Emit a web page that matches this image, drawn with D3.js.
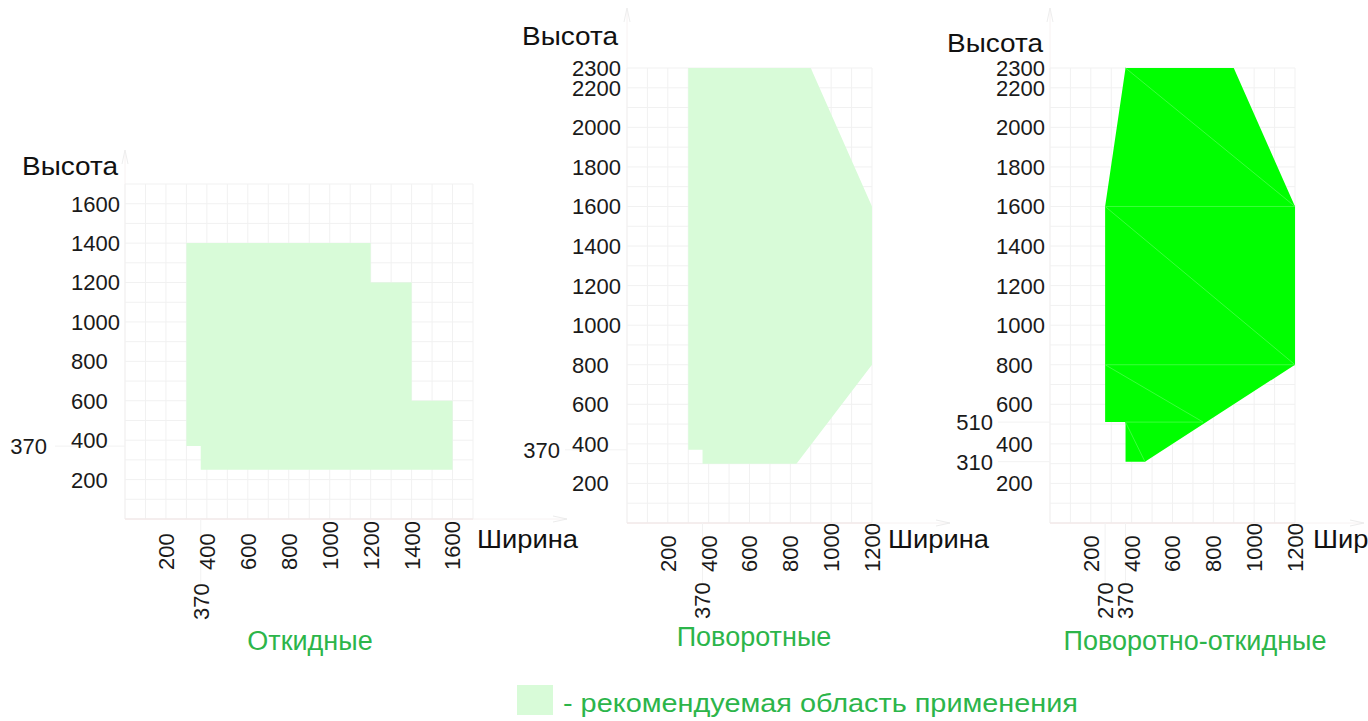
<!DOCTYPE html>
<html><head><meta charset="utf-8">
<script src="https://cdn.jsdelivr.net/npm/d3@7"></script>
<style>body{margin:0;background:#fff;overflow:hidden} text{font-family:"Liberation Sans",Arial,sans-serif}</style>
</head><body><svg id="c" width="1368" height="721"></svg>
<script>
// ---------- data ----------
const panelNames = ["Откидные", "Поворотные", "Поворотно-откидные"];
const widthMax = [1700, 1200, 1200];
const heightMax = [1700, 2300, 2300];
const xTicks1 = [200, 400, 600, 800, 1000, 1200, 1400, 1600];
const xTicks2 = [200, 400, 600, 800, 1000, 1200];
const xTicks3 = [200, 400, 600, 800, 1000, 1200];
const xExtra1 = [370];
const xExtra2 = [370];
const xExtra3 = [270, 370];
const yTicks1 = [200, 400, 600, 800, 1000, 1200, 1400, 1600];
const yTicks2 = [200, 400, 600, 800, 1000, 1200, 1400, 1600, 1800, 2000, 2200, 2300];
const yTicks3 = [200, 400, 600, 800, 1000, 1200, 1400, 1600, 1800, 2000, 2200, 2300];
const yExtra1 = [370];
const yExtra2 = [370];
const yExtra3 = [310, 510];
// polygons: [width, height]
const area1 = [[300,1400],[1200,1400],[1200,1200],[1400,1200],[1400,600],[1600,600],[1600,250],[370,250],[370,370],[300,370]];
const area2 = [[300,2300],[900,2300],[1200,1600],[1200,800],[830,300],[370,300],[370,370],[300,370]];
const area3 = [[370,2300],[900,2300],[1200,1600],[1200,800],[465,310],[370,310],[370,510],[270,510],[270,1600]];
const seams3 = [
  [[370,2300],[1200,1600]], [[270,1600],[1200,1600]], [[270,1600],[1200,800]],
  [[270,800],[1200,800]], [[270,800],[750,510]], [[370,510],[750,510]], [[370,510],[465,310]]
];
const axisLabelY = "Высота";
const axisLabelX = "Ширина";
const legendText = "- рекомендуемая область применения";

// ---------- layout ----------
const layout = [
  {gx:[125,473], gy:[519,184], yLabX:71, yExtraX:47, xLabB:570, xExtraB:620,
   vysX:118, vysY:175, shirX:477, titleX:310, titleY:650, arrowX:567, arrowTop:150, guideL:55},
  {gx:[627,872], gy:[523,68], yLabX:572, yExtraX:560, xLabB:572, xExtraB:619,
   vysX:618, vysY:45, shirX:888, titleX:754, titleY:646, arrowX:950, arrowTop:8, guideL:565},
  {gx:[1050,1295], gy:[523,68], yLabX:996, yExtraX:993, xLabB:572, xExtraB:619,
   vysX:1043, vysY:52, shirX:1313, titleX:1195, titleY:650, arrowX:1364, arrowTop:8, guideL:998}
];
const xTicks = [xTicks1, xTicks2, xTicks3];
const xExtras = [xExtra1, xExtra2, xExtra3];
const yTicks = [yTicks1, yTicks2, yTicks3];
const yExtras = [yExtra1, yExtra2, yExtra3];
const areas = [area1, area2, area3];
const fills = ["#d8fbd8", "#d8fbd8", "#00ff00"];
const green = "#2cb54a";

const svg = d3.select("#c");

layout.forEach((L, i) => {
  const x = d3.scaleLinear().domain([0, widthMax[i]]).range(L.gx);
  const y = d3.scaleLinear().domain([0, heightMax[i]]).range(L.gy);
  const g = svg.append("g");

  // faint axis lines with arrows
  g.append("line").attr("x1", L.gx[0]).attr("x2", L.arrowX).attr("y1", L.gy[0]).attr("y2", L.gy[0])
    .attr("stroke", "#f7f2f2").attr("stroke-width", 1);
  g.append("path").attr("d", `M${L.arrowX-14},${L.gy[0]-3}L${L.arrowX},${L.gy[0]}L${L.arrowX-14},${L.gy[0]+3}`)
    .attr("fill", "none").attr("stroke", "#ececec");
  g.append("line").attr("x1", L.gx[0]).attr("x2", L.gx[0]).attr("y1", L.gy[0]).attr("y2", L.arrowTop)
    .attr("stroke", "#f7f2f2").attr("stroke-width", 1);
  g.append("path").attr("d", `M${L.gx[0]-3},${L.arrowTop+14}L${L.gx[0]},${L.arrowTop}L${L.gx[0]+3},${L.arrowTop+14}`)
    .attr("fill", "none").attr("stroke", "#eeeeee");

  // grid
  const gxVals = d3.range(0, widthMax[i] + 1, 100);
  const gyVals = d3.range(0, heightMax[i] + 1, 100);
  g.selectAll(".gv").data(gxVals).enter().append("line")
    .attr("x1", d => x(d)).attr("x2", d => x(d)).attr("y1", L.gy[0]).attr("y2", L.gy[1])
    .attr("stroke", "#f1f1f1").attr("stroke-width", 1);
  g.selectAll(".gh").data(gyVals).enter().append("line")
    .attr("y1", d => y(d)).attr("y2", d => y(d)).attr("x1", L.gx[0]).attr("x2", L.gx[1])
    .attr("stroke", "#f1f1f1").attr("stroke-width", 1);
  g.append("line").attr("x1", L.gx[0]).attr("x2", L.gx[1]).attr("y1", L.gy[0]).attr("y2", L.gy[0])
    .attr("stroke", "#f3e6e6");

  // guide lines for extra ticks
  g.selectAll(".ge").data(yExtras[i]).enter().append("line")
    .attr("x1", L.guideL).attr("x2", L.gx[0]).attr("y1", d => y(d)).attr("y2", d => y(d))
    .attr("stroke", "#f2f2f2");
  g.selectAll(".gxe").data(xExtras[i]).enter().append("line")
    .attr("x1", d => x(d)).attr("x2", d => x(d)).attr("y1", L.gy[0]).attr("y2", L.xExtraB - 36)
    .attr("stroke", "#f2f2f2");

  // area
  const line = d3.line().x(d => x(d[0])).y(d => y(d[1]));
  g.append("path").attr("d", line(areas[i]) + "Z").attr("fill", fills[i]);
  if (i === 2) {
    g.selectAll(".seam").data(seams3).enter().append("path")
      .attr("d", d => line(d)).attr("stroke", "#3aff3a").attr("stroke-width", 1).attr("fill", "none");
  }

  // y tick labels
  const tsz = 22;
  g.selectAll(".yt").data(yTicks[i]).enter().append("text")
    .attr("x", L.yLabX).attr("y", d => y(d)).attr("dy", "0.36em")
    .attr("font-size", tsz).attr("fill", "#1a1a1a").text(d => d);
  g.selectAll(".ye").data(yExtras[i]).enter().append("text")
    .attr("x", L.yExtraX).attr("y", d => y(d)).attr("dy", "0.36em").attr("text-anchor", "end")
    .attr("font-size", tsz).attr("fill", "#1a1a1a").text(d => d);

  // x tick labels (rotated)
  g.selectAll(".xt").data(xTicks[i]).enter().append("text")
    .attr("transform", d => `translate(${x(d)},${L.xLabB}) rotate(-90)`).attr("dy", "0.36em")
    .attr("font-size", tsz).attr("fill", "#1a1a1a").text(d => d);
  g.selectAll(".xe").data(xExtras[i]).enter().append("text")
    .attr("transform", d => `translate(${x(d)},${L.xExtraB}) rotate(-90)`).attr("dy", "0.36em")
    .attr("font-size", tsz).attr("fill", "#1a1a1a").text(d => d);

  // axis titles
  g.append("text").attr("x", L.vysX).attr("y", L.vysY).attr("text-anchor", "end")
    .attr("font-size", 25).attr("textLength", 96).attr("lengthAdjust", "spacingAndGlyphs")
    .attr("fill", "#111").text(axisLabelY);
  g.append("text").attr("x", L.shirX).attr("y", 548)
    .attr("font-size", 25).attr("textLength", 101).attr("lengthAdjust", "spacingAndGlyphs")
    .attr("fill", "#111").text(axisLabelX);

  // panel title
  g.append("text").attr("x", L.titleX).attr("y", L.titleY).attr("text-anchor", "middle")
    .attr("font-size", 27).attr("fill", green).text(panelNames[i]);
});

// legend
svg.append("rect").attr("x", 517).attr("y", 685).attr("width", 36).attr("height", 30).attr("fill", "#d8fbd8");
svg.append("text").attr("x", 563).attr("y", 712).attr("font-size", 26)
  .attr("textLength", 515).attr("lengthAdjust", "spacingAndGlyphs")
  .attr("fill", green).text(legendText);
</script>
</body></html>
